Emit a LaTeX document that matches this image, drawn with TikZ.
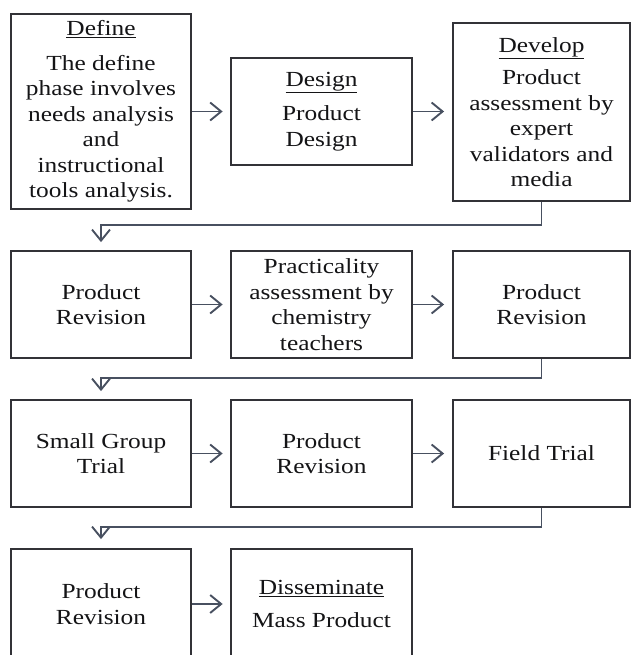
\documentclass[tikz,border=0pt]{standalone}
\usepackage{fontspec}
\setmainfont[FakeStretch=1.18]{Liberation Serif}
\usetikzlibrary{arrows.meta,calc}
\definecolor{boxcol}{RGB}{50,50,55}
\definecolor{arrcol}{RGB}{72,80,96}
\definecolor{txtcol}{RGB}{20,20,22}
\begin{document}
\begin{tikzpicture}[x=1pt,y=-1pt,
  box/.style={draw=boxcol, line width=1.8pt, fill=white, text=txtcol, align=center,
    inner sep=0pt, font=\fontsize{21.5}{25.5}\selectfont},
  boxb/.style={box, line width=2.7pt},
  arr/.style={draw=arrcol, line width=1.9pt, -{Straight Barb[length=11pt,width=18pt,line width=1.9pt]}},
  conn/.style={draw=arrcol, line width=1.7pt, -{Straight Barb[length=11pt,width=18pt,line width=1.9pt]}}]
\useasboundingbox (0,0) rectangle (631,655);
\clip (0,0) rectangle (631,655);
% row 1
\node[box, minimum width=180pt, minimum height=195pt] (def) at (101,111.5)
  {\underline{Define}\\[9pt]The define\\phase involves\\needs analysis\\and\\instructional\\tools analysis.};
\node[boxb, minimum width=181pt, minimum height=107pt] (des) at (321.5,111.5)
  {\underline{Design}\\[9pt]Product\\Design};
\node[box, minimum width=177pt, minimum height=178pt] (dev) at (541.5,112)
  {\underline{Develop}\\[7pt]Product\\assessment by\\expert\\validators and\\media};
% row 2
\node[box, minimum width=180pt, minimum height=107pt] (r2a) at (101,304.5) {Product\\Revision};
\node[boxb, minimum width=181pt, minimum height=107pt] (r2b) at (321.5,304.5)
  {Practicality\\assessment by\\chemistry\\teachers};
\node[box, minimum width=177pt, minimum height=107pt] (r2c) at (541.5,304.5) {Product\\Revision};
% row 3
\node[box, minimum width=180pt, minimum height=107pt] (r3a) at (101,453.5) {Small Group\\Trial};
\node[boxb, minimum width=181pt, minimum height=107pt] (r3b) at (321.5,453.5) {Product\\Revision};
\node[box, minimum width=177pt, minimum height=107pt] (r3c) at (541.5,453.5) {Field Trial};
% row 4
\node[box, minimum width=180pt, minimum height=110pt] (r4a) at (101,604) {Product\\Revision};
\node[boxb, minimum width=181pt, minimum height=110pt] (r4b) at (321.5,604)
  {\underline{Disseminate}\\[7pt]Mass Product};
% horizontal arrows
\draw[arr, shorten >=7pt] (def.east |- des.west) -- (des.west);
\draw[arr, shorten >=8pt] (des.east) -- (des.east -| dev.west);
\draw[arr, shorten >=7pt] (r2a) -- (r2b);
\draw[arr, shorten >=8pt] (r2b) -- (r2c);
\draw[arr, shorten >=7pt] (r3a) -- (r3b);
\draw[arr, shorten >=8pt] (r3b) -- (r3c);
\draw[arr, shorten >=7pt] (r4a.east) -- (r4b.west);
% return connectors
\draw[conn, shorten >=8pt] (dev.south) |- ($(r2a.north)+(0,-25)$) -- (r2a.north);
\draw[conn, shorten >=8pt] (r2c.south) |- ($(r3a.north)+(0,-21)$) -- (r3a.north);
\draw[conn, shorten >=9pt] (r3c.south) |- ($(r4a.north)+(0,-21)$) -- (r4a.north);
\end{tikzpicture}
\end{document}
